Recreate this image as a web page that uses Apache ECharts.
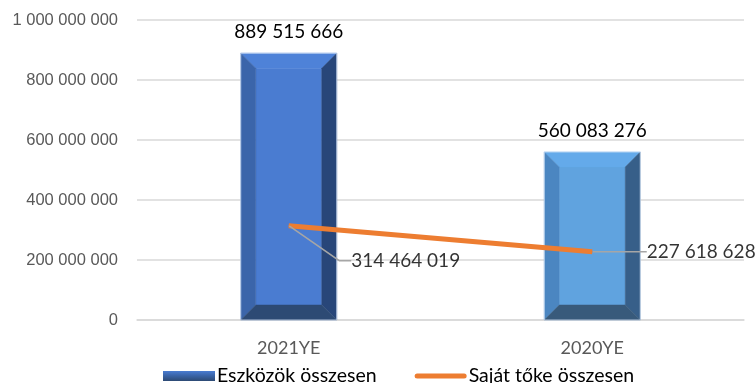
<!DOCTYPE html>
<html>
<head>
<meta charset="utf-8">
<script src="https://cdn.jsdelivr.net/npm/echarts@6/dist/echarts.min.js"></script>
<style>html,body{margin:0;padding:0;background:#fff}#c{width:756px;height:383px}</style>
</head>
<body>
<div id="c"></div>
<script>
var categories = ['2021YE', '2020YE'];
var assetsValues = [889515666, 560083276];
var equityValues = [314464019, 227618628];
var yTicks = [0, 200000000, 400000000, 600000000, 800000000, 1000000000];
var seriesNames = ['Eszközök összesen', 'Saját tőke összesen'];

function fmt(v) { return String(v).replace(/\B(?=(\d{3})+(?!\d))/g, ' '); }

var palettes = [
  { face: '#4a7cd1', top: '#4e82d8', left: '#3b65aa', right: '#284679', bottom: '#2d4a74' },
  { face: '#60a3df', top: '#64aaea', left: '#4b86c1', right: '#375f89', bottom: '#385a7b' }
];

var chart = echarts.init(document.getElementById('c'));
chart.setOption({
  animation: false,
  grid: { left: 137, right: 12, top: 20, bottom: 63 },
  xAxis: {
    type: 'category', data: categories,
    axisLine: { show: true, lineStyle: { color: '#d9d9d9', width: 1.5 } },
    axisTick: { show: false },
    axisLabel: { color: '#595959', fontFamily: 'Lato', fontSize: 18, margin: 19 }
  },
  yAxis: {
    type: 'value', min: yTicks[0], max: yTicks[yTicks.length - 1], interval: yTicks[1] - yTicks[0],
    axisLine: { show: false }, axisTick: { show: false },
    splitLine: { lineStyle: { color: '#d9d9d9', width: 1.5 } },
    axisLabel: { color: '#595959', fontFamily: 'Liberation Sans', fontSize: 16.5, margin: 19, formatter: fmt }
  },
  legend: {
    top: 361, left: 158, itemGap: 38, itemWidth: 52, itemHeight: 10,
    textStyle: { color: '#000', fontFamily: 'Lato', fontSize: 19.5, padding: [0, 0, 0, -3] },
    data: [
      { name: seriesNames[0], icon: 'rect', itemStyle: { color: new echarts.graphic.LinearGradient(0, 0, 0, 1, [{ offset: 0, color: '#4a7cd1' }, { offset: 0.45, color: '#3a64a8' }, { offset: 1, color: '#2d4a74' }]) } },
      { name: seriesNames[1], icon: 'path://M0,0 M52,10 M2.5,2.5 L49.5,2.5 A2.5,2.5 0 0 1 49.5,7.5 L2.5,7.5 A2.5,2.5 0 0 1 2.5,2.5 Z', itemStyle: { color: '#ed7d31' } }
    ]
  },
  series: [
    {
      name: seriesNames[0], type: 'custom',
      itemStyle: { color: '#4a7cd1' },
      data: assetsValues,
      renderItem: function (params, api) {
        var idx = params.dataIndex;
        var p = palettes[idx];
        var topPt = api.coord([idx, api.value(1)]);
        var basePt = api.coord([idx, 0]);
        var w = 96, b = 15;
        var x0 = topPt[0] - w / 2, x1 = topPt[0] + w / 2;
        var yT = topPt[1], yB = basePt[1];
        function poly(pts, c) { return { type: 'polygon', shape: { points: pts }, style: { fill: c, stroke: c, lineWidth: 0.5 } }; }
        return {
          type: 'group',
          children: [
            poly([[x0 + b, yT + b], [x1 - b, yT + b], [x1 - b, yB - b], [x0 + b, yB - b]], p.face),
            poly([[x0, yT], [x1, yT], [x1 - b, yT + b], [x0 + b, yT + b]], p.top),
            poly([[x0, yT], [x0 + b, yT + b], [x0 + b, yB - b], [x0, yB]], p.left),
            poly([[x1, yT], [x1, yB], [x1 - b, yB - b], [x1 - b, yT + b]], p.right),
            poly([[x0, yB], [x1, yB], [x1 - b, yB - b], [x0 + b, yB - b]], p.bottom),
            { type: 'rect', shape: { x: x0, y: yT, width: w, height: yB - yT }, style: { fill: 'none', stroke: 'rgba(210,225,245,0.8)', lineWidth: 1 } },
            { type: 'text', x: topPt[0], y: yT - 12, style: { text: fmt(api.value(1)), fill: '#000', font: '19px Lato', align: 'center', verticalAlign: 'bottom' } }
          ]
        };
      },
      encode: { x: 0, y: 1 },
      z: 1
    },
    {
      name: seriesNames[1], type: 'line', data: equityValues,
      symbol: 'none', z: 3,
      lineStyle: { color: '#ed7d31', width: 5 },
      itemStyle: { color: '#ed7d31' }
    },
    {
      name: 'equityLabels', type: 'scatter', data: equityValues,
      symbol: 'circle', symbolSize: 1, z: 4,
      itemStyle: { color: '#ed7d31' },
      label: { show: true, position: 'right', distance: 0, padding: [0, 0, 0, 8], color: '#000', fontFamily: 'Lato', fontSize: 19, formatter: function (p) { return fmt(p.value); } },
      labelLayout: function (params) {
        return params.dataIndex === 0 ? { dx: 54, dy: 35 } : { dx: 46, dy: 0 };
      },
      labelLine: { show: true, length2: 12, lineStyle: { color: '#a6a6a6', width: 1.5 } }
    }
  ]
});
</script>
</body>
</html>
